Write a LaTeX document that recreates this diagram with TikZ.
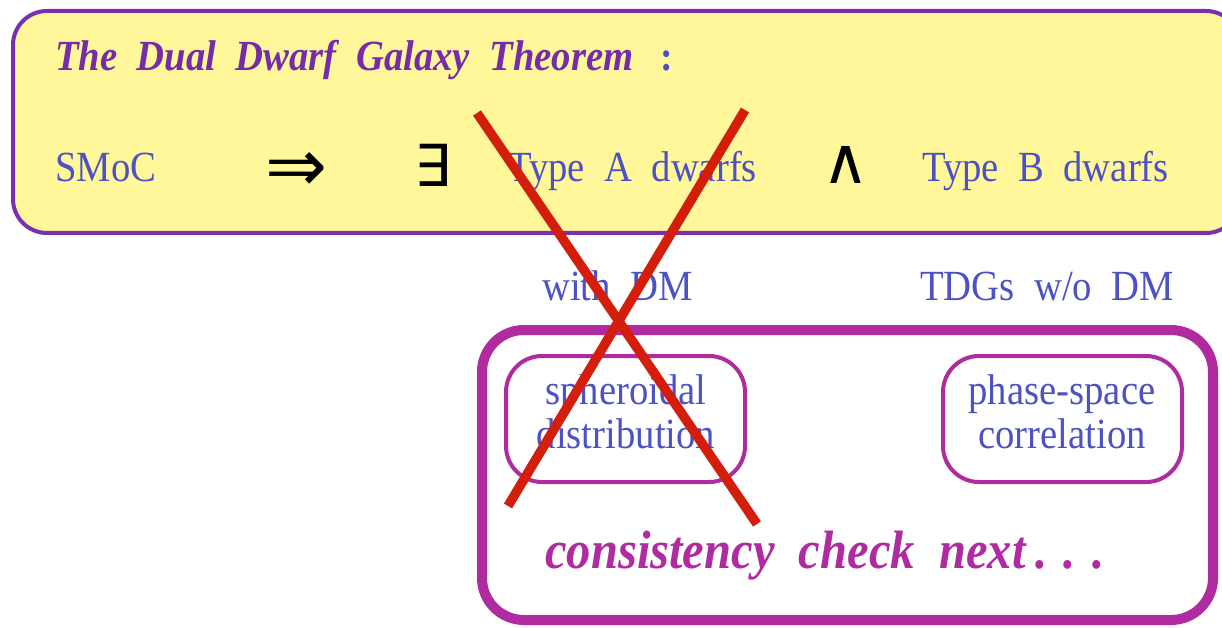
\documentclass[tikz,border=0pt]{standalone}
\usepackage{fontspec}
\setmainfont{Liberation Serif}[FakeStretch=0.9, WordSpace=2]
\newfontfamily\symfont{DejaVu Sans}
\definecolor{bluetxt}{RGB}{76,82,196}
\definecolor{titlepurple}{RGB}{118,44,168}
\definecolor{boxpurple}{RGB}{122,46,176}
\definecolor{boxyellow}{RGB}{255,247,153}
\definecolor{mag}{RGB}{176,42,160}
\definecolor{crossred}{RGB}{212,30,12}
\tikzset{
  bluetext/.style={text=bluetxt, inner sep=0pt, font=\fontsize{43}{43}\selectfont},
  titletext/.style={text=titlepurple, inner sep=0pt, font=\fontsize{43}{43}\selectfont\bfseries\itshape},
  symtext/.style={text=black, inner sep=0pt},
  innerbox/.style={draw=mag, line width=4pt, rounded corners=36pt, fill=white},
  crossline/.style={draw=crossred, line width=9.5pt},
}
\begin{document}
\begin{tikzpicture}[x=1pt,y=-1pt]
\useasboundingbox (0,0) rectangle (1222,628);
\begin{scope}
\clip (0,0) rectangle (1222,628);
% yellow theorem box
\draw[draw=boxpurple, fill=boxyellow, line width=4pt, rounded corners=34pt] (13,11) rectangle (1240,233);
% magenta frame
\draw[draw=mag, line width=10pt, rounded corners=42pt] (482,330) rectangle (1213,620);
\end{scope}
% inner boxes
\draw[innerbox] (506,356) rectangle (745,482);
\draw[innerbox] (943,356) rectangle (1182,482);

% title
\node[titletext, anchor=base west] (title) at (55,71) {The Dual Dwarf Galaxy Theorem};
\node[bluetext, anchor=base west, font=\fontsize{42}{42}\selectfont\bfseries] (colon) at (660,71) {:};

% row
\node[bluetext, anchor=base west] (smoc) at (55,182) {SMoC};
\node[symtext, font=\symfont\fontsize{74}{74}\selectfont] (impl) at (296,172) {⇒};
\node[symtext, font=\symfont\fontsize{58}{58}\selectfont] (exists) at (433,165) {∃};
\node[symtext, font=\symfont\fontsize{64}{64}\selectfont] (and) at (846,165) {∧};
\node[bluetext, anchor=base west] (typea) at (508,182) {Type A dwarfs};
\node[bluetext, anchor=base west] (typeb) at (922,182) {Type B dwarfs};

% descriptions
\node[bluetext, anchor=base west] (withdm) at (542,300) {with DM};
\node[bluetext, anchor=base west] (tdgs) at (920,300) {TDGs w/o DM};

% inner box texts
\node[bluetext, anchor=base] (sph) at (626,404) {spheroidal};
\node[bluetext, anchor=base] (dist) at (626,448) {distribution};
\node[bluetext, anchor=base] (phase) at (1062,404) {phase-space};
\node[bluetext, anchor=base] (corr) at (1062,448) {correlation};

% consistency check
\node[text=mag, inner sep=0pt, anchor=base west, font=\fontsize{54}{54}\selectfont\bfseries\itshape] (cons) at (545,568) {consistency check next\hspace{10pt}.\hspace{16pt}.\hspace{16pt}.};

% red cross
\coordinate (xa1) at (477,113);
\coordinate (xa2) at (757,524);
\coordinate (xb1) at (745,110);
\coordinate (xb2) at (508,506);
\draw[crossline] (xa1) -- (xa2);
\draw[crossline] (xb1) -- (xb2);
\end{tikzpicture}
\end{document}
